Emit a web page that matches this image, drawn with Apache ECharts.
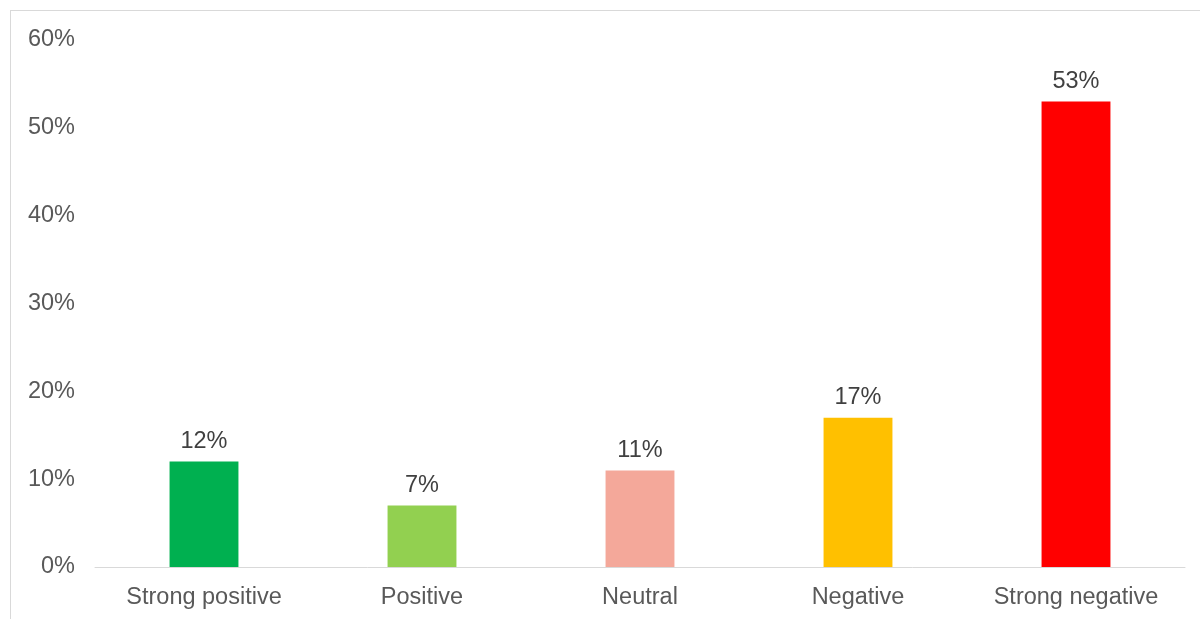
<!DOCTYPE html>
<html>
<head>
<meta charset="utf-8">
<script src="https://cdn.jsdelivr.net/npm/echarts@6/dist/echarts.min.js"></script>
<style>
  html, body { margin: 0; padding: 0; background: #fff; }
  #frame { position: absolute; left: 10px; top: 10px; width: 1200px; height: 620px;
           border-left: 1px solid #d9d9d9; border-top: 1px solid #d9d9d9; }
  #chart { position: absolute; left: 0; top: 0; width: 1200px; height: 619px; }
</style>
</head>
<body>
<div id="frame"></div>
<div id="chart"></div>
<script>
// Share of responses by sentiment
const categories = ['Strong positive', 'Positive', 'Neutral', 'Negative', 'Strong negative'];
const shares = [12, 7, 11, 17, 53];
const barColors = ['#00b050', '#92d050', '#f4a89a', '#ffc000', '#ff0000'];

const FONT = 'Liberation Sans';
const chart = echarts.init(document.getElementById('chart'));
chart.setOption({
  animation: false,
  grid: { left: 95, right: 15, top: 40, bottom: 52 },
  xAxis: {
    type: 'category',
    data: categories,
    axisLine: { lineStyle: { color: '#d9d9d9', width: 1 } },
    axisTick: { show: false },
    axisLabel: { color: '#595959', fontSize: 23.5, fontFamily: FONT, margin: 19 }
  },
  yAxis: {
    type: 'value',
    min: 0, max: 60, interval: 10,
    splitLine: { show: false },
    axisLine: { show: false },
    axisTick: { show: false },
    axisLabel: { color: '#595959', fontSize: 23.5, fontFamily: FONT, margin: 20,
                 formatter: v => v + '%', padding: [3, 0, 0, 0] }
  },
  series: [{
    type: 'bar',
    barWidth: '31.6%',
    data: shares.map((v, i) => ({ value: v, itemStyle: { color: barColors[i] } })),
    label: {
      show: true, position: 'top', distance: 8,
      color: '#404040', fontSize: 23.5, fontFamily: FONT,
      formatter: p => p.value + '%'
    }
  }]
});
</script>
</body>
</html>
